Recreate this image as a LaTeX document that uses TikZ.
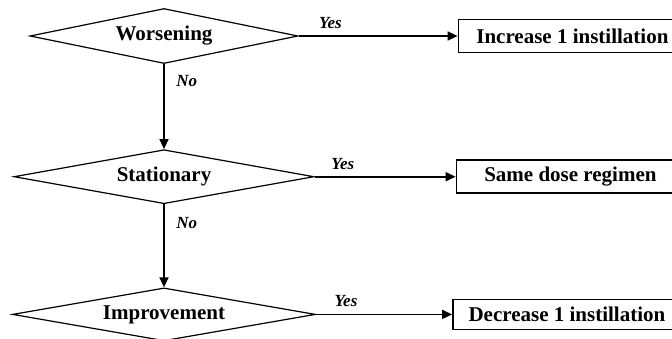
\documentclass[tikz,border=0pt]{standalone}
\usepackage{fontspec}
\setmainfont{Liberation Serif}
\usetikzlibrary{
    arrows.meta,
    shapes.geometric,
    positioning
}
\tikzset{%
    >={Triangle[width=4.5pt,length=5pt]},
    % Specifications for style of nodes:
    base/.style = {
        draw=black, line width=0.6pt,
        fill=white, inner sep=0pt, align=center,
        font=\fontsize{10.5}{12}\selectfont\bfseries
    },
    test/.style = {base, diamond},
    result/.style = {base, rectangle, line width=0.8pt,
        minimum width=114pt, minimum height=16.5pt},
    answer/.style = {font=\fontsize{8.5}{10}\selectfont\bfseries\itshape},
    flow/.style = {->, line width=0.8pt}
}

\begin{document}
\begin{tikzpicture}[x=0.5pt, y=-0.5pt]
\useasboundingbox (0,0) rectangle (672,338);
% Specification of nodes (position, etc.)
\node (wors)  [test, shape aspect=4.87, minimum width=134pt, minimum height=27.5pt] at (164,36) {Worsening};
\node (stat)  [test, shape aspect=5.56, minimum width=150pt, minimum height=27pt, below=42.5pt of wors] {Stationary};
\node (impr)  [test, shape aspect=5.72, minimum width=151.5pt, minimum height=26.5pt, below=41.5pt of stat] {Improvement};
\node (inc)   [result, right=79.5pt of wors] {Increase 1 instillation};
\node (same)  [result, right=70.5pt of stat] {Same dose regimen};
\node (dec)   [result, minimum height=15pt, right=68pt of impr] {Decrease 1 instillation};
% Specification of paths
\draw[flow] (wors) -- node[answer, pos=.2, above] {Yes} (inc);
\draw[flow] (stat) -- node[answer, pos=.2, above] {Yes} (same);
\draw[flow] (impr) -- node[answer, pos=.22, above] {Yes} (dec);
\draw[flow] (wors) -- node[answer, pos=.2, right, xshift=2.5pt] {No} (stat);
\draw[flow] (stat) -- node[answer, pos=.22, right, xshift=2.5pt] {No} (impr);
\end{tikzpicture}
\end{document}
